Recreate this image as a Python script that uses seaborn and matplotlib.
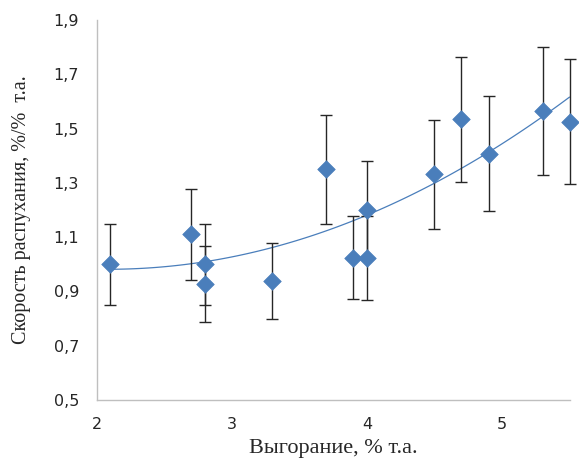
import matplotlib
matplotlib.use("Agg")
import matplotlib.pyplot as plt
import pandas as pd
import seaborn as sns

# Burnup (% FIMA) and swelling rate (%/% FIMA) with measurement uncertainty
burnup = [2.1, 2.7, 2.8, 2.8, 3.3, 3.7, 3.9, 4.0, 4.0, 4.5, 4.7, 4.9, 5.3, 5.5]
swelling_rate = [1.00, 1.11, 1.00, 0.927, 0.937, 1.35, 1.024, 1.20, 1.024, 1.331, 1.535, 1.408, 1.565, 1.526]
rate_error = [0.15, 0.167, 0.15, 0.14, 0.14, 0.20, 0.153, 0.18, 0.155, 0.20, 0.23, 0.212, 0.235, 0.23]

x_ticks = [2, 3, 4, 5]
x_tick_labels = ["2", "3", "4", "5"]
y_ticks = [0.5, 0.7, 0.9, 1.1, 1.3, 1.5, 1.7, 1.9]
y_tick_labels = ["0,5", "0,7", "0,9", "1,1", "1,3", "1,5", "1,7", "1,9"]

df = pd.DataFrame({"burnup": burnup, "rate": swelling_rate, "err": rate_error})

sns.set_style("white")
plt.rcParams["font.family"] = ["DejaVu Sans"]

fig = plt.figure(figsize=(5.79, 4.62), dpi=100)
ax = fig.add_axes([0.1675, 0.1342, 0.8161, 0.8225])

blue = "#4A7EBB"
axis_grey = "#BFBFBF"

# second-order polynomial trend line
sns.regplot(data=df, x="burnup", y="rate", order=2, ci=None, scatter=False,
            truncate=True, ax=ax,
            line_kws={"color": blue, "linewidth": 0.9, "zorder": 1, "clip_on": False})

bars = ax.errorbar(df["burnup"], df["rate"], yerr=df["err"], fmt="none",
                   ecolor="#262626", elinewidth=1.0, capsize=4.5, capthick=1.0, zorder=2)
for artist in bars.lines[1] + bars.lines[2]:
    artist.set_clip_on(False)

sns.scatterplot(data=df, x="burnup", y="rate", marker="D", s=80, color=blue,
                edgecolor=blue, linewidth=0.5, ax=ax, zorder=3, clip_on=False)

ax.set_xlim(2, 5.5)
ax.set_ylim(0.5, 1.9)
ax.set_xticks(x_ticks)
ax.set_xticklabels(x_tick_labels)
ax.set_yticks(y_ticks)
ax.set_yticklabels(y_tick_labels)

for side in ("top", "right"):
    ax.spines[side].set_visible(False)
for side in ("left", "bottom"):
    ax.spines[side].set_color(axis_grey)
    ax.spines[side].set_linewidth(1.0)

ax.tick_params(axis="both", which="major", direction="out", length=5, width=1.0,
               color=axis_grey, labelsize=11.5, labelcolor="#262626")
ax.tick_params(axis="x", pad=7)
ax.tick_params(axis="y", pad=8)

ax.set_xlabel("Выгорание, % т.а.", family=["Liberation Serif"], fontsize=16,
              color="#262626", labelpad=5)
ax.set_ylabel("Скорость распухания, %/%  т.а.", family=["Liberation Serif"], fontsize=14.5,
              color="#262626", labelpad=16)

fig.savefig("out.png", dpi=100)
